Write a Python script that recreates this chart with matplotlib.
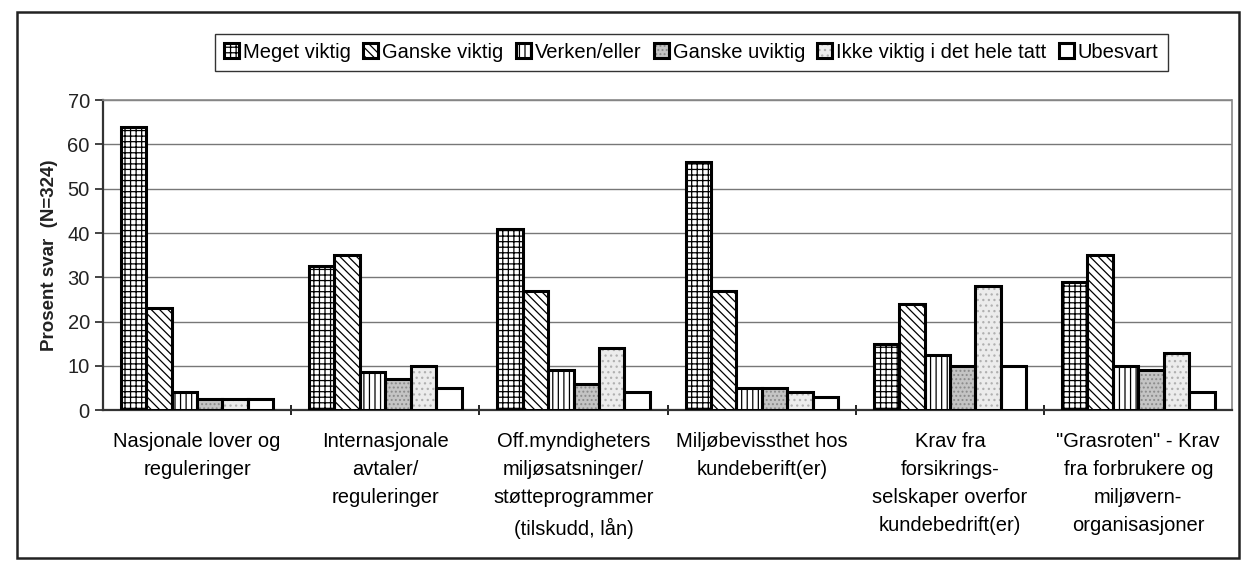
import numpy as np
import matplotlib
matplotlib.use("Agg")
import matplotlib.pyplot as plt
from matplotlib.patches import Rectangle
from matplotlib.legend_handler import HandlerTuple

plt.rcParams['font.family'] = ['Liberation Sans', 'DejaVu Sans']
plt.rcParams['hatch.linewidth'] = 0.9

# categories (x axis)
categories = [
    "Nasjonale lover og\nreguleringer",
    "Internasjonale\navtaler/\nreguleringer",
    "Off.myndigheters\nmiljøsatsninger/\nstøtteprogrammer\n(tilskudd, lån)",
    "Miljøbevissthet hos\nkundeberift(er)",
    "Krav fra\nforsikrings-\nselskaper overfor\nkundebedrift(er)",
    "\"Grasroten\" - Krav\nfra forbrukere og\nmiljøvern-\norganisasjoner",
]

series_names = ["Meget viktig", "Ganske viktig", "Verken/eller",
                "Ganske uviktig", "Ikke viktig i det hele tatt", "Ubesvart"]

# percent answers per series, one value per category
meget_viktig = [64, 32.5, 41, 56, 15, 29]
ganske_viktig = [23, 35, 27, 27, 24, 35]
verken_eller = [4, 8.5, 9, 5, 12.5, 10]
ganske_uviktig = [2.5, 7, 6, 5, 10, 9]
ikke_viktig = [2.5, 10, 14, 4, 28, 13]
ubesvart = [2.5, 5, 4, 3, 10, 4]

series_values = [meget_viktig, ganske_viktig, verken_eller,
                 ganske_uviktig, ikke_viktig, ubesvart]

# fill styles: (facecolor, hatch, hatch colour)
styles = [
    ("white", "+++", "black"),
    ("white", "\\\\\\\\", "black"),
    ("white", "|||", "black"),
    ("#c4c4c4", "....", "#8a8a8a"),
    ("#ececec", "...", "#b0b0b0"),
    ("white", "", "black"),
]

fig = plt.figure(figsize=(12.48, 5.76), dpi=100)
ax = fig.add_axes([0.0825, 0.288, 0.905, 0.538])

x = np.arange(len(categories))
width = 0.135
handles = []
for i, (vals, (fc, hatch, hc)) in enumerate(zip(series_values, styles)):
    pos = x + (i - 2.5) * width
    fill = ax.bar(pos, vals, width, facecolor=fc, hatch=hatch, edgecolor=hc,
                  linewidth=0, zorder=3)
    edge = ax.bar(pos, vals, width, fill=False, edgecolor="black",
                  linewidth=2.2, zorder=4)
    handles.append((fill[0], edge[0]))

ax.set_xlim(-0.5, len(categories) - 0.5)
ax.set_ylim(0, 70)
ax.set_yticks(np.arange(0, 71, 10))
ax.yaxis.grid(True, color="#777777", linewidth=1.0)
ax.set_axisbelow(True)

ax.set_xticks(x)
ax.set_xticklabels(categories, fontsize=14.5, linespacing=1.6)
ax.set_xticks(np.arange(0.5, len(categories) - 0.5, 1), minor=True)
ax.tick_params(axis="x", which="major", length=0, pad=16)
ax.tick_params(axis="x", which="minor", length=7, width=1.2, direction="inout")
ax.tick_params(axis="y", labelsize=14.5, length=6, width=1.2, colors="#222222")

for s in ["left", "bottom"]:
    ax.spines[s].set_linewidth(1.6)
    ax.spines[s].set_color("#333333")
for s in ["top", "right"]:
    ax.spines[s].set_linewidth(1.2)
    ax.spines[s].set_color("#888888")
    ax.spines[s].set_linestyle((0, (2, 1)))

ax.set_ylabel("Prosent svar  (N=324)", fontsize=13.5, fontweight="bold",
              labelpad=7, color="#222222")

leg = ax.legend(handles, series_names,
                handler_map={tuple: HandlerTuple(ndivide=1, pad=0)},
                loc="center", bbox_to_anchor=(0.521, 1.155), ncol=6,
                fontsize=14.5, frameon=True, fancybox=False, edgecolor="black",
                handlelength=0.75, handleheight=0.75, handletextpad=0.2,
                columnspacing=0.6, borderpad=0.45, borderaxespad=0)
leg.get_frame().set_linewidth(1.0)

# outer frame around the whole chart
fig.patches.append(Rectangle((17 / 1248, 18 / 576), 1222 / 1248, 546 / 576,
                             transform=fig.transFigure, fill=False,
                             edgecolor="#222222", linewidth=1.8))

fig.savefig("out.png", dpi=100)
